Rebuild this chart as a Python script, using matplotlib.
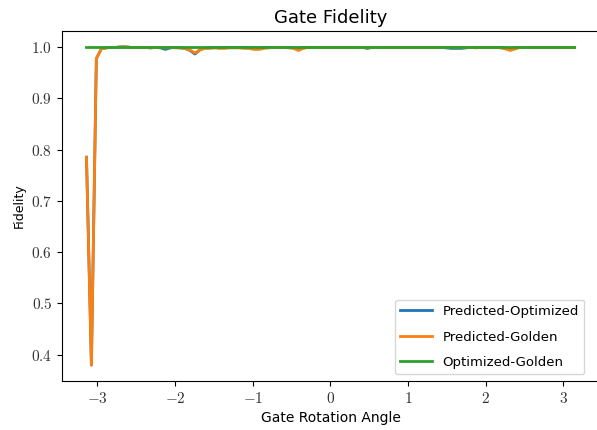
import numpy as np
import matplotlib
matplotlib.use("Agg")
import matplotlib.pyplot as plt

plt.rcParams['mathtext.fontset'] = 'cm'
plt.rcParams['font.family'] = ['DejaVu Sans']

# angle grid: 100 samples over [-pi, pi]
angles = np.linspace(-np.pi, np.pi, 100)

pred_opt = [
    0.785, 0.380, 0.977, 0.996, 0.998, 0.999, 0.999, 1.000, 1.000, 0.999,
    0.999, 0.999, 0.999, 0.998, 0.999, 0.998, 0.995, 0.998, 0.999, 0.998,
    0.997, 0.993, 0.986, 0.994, 0.998, 0.998, 0.999, 0.998, 0.999, 0.999,
    0.999, 0.999, 0.999, 0.998, 0.998, 0.998, 0.999, 0.999, 0.999, 0.999,
    0.999, 0.999, 0.998, 0.997, 0.999, 0.999, 0.999, 0.999, 0.999, 0.999,
    0.999, 0.999, 0.999, 0.999, 0.999, 0.999, 0.999, 0.997, 0.999, 0.999,
    0.999, 0.999, 0.999, 0.999, 0.999, 0.999, 0.999, 0.999, 0.999, 0.999,
    0.999, 0.999, 0.999, 0.998, 0.997, 0.997, 0.997, 0.998, 0.999, 0.999,
    0.999, 0.999, 0.999, 0.999, 0.999, 0.998, 0.996, 0.998, 0.999, 0.999,
    0.999, 0.999, 0.999, 0.999, 0.999, 0.999, 0.999, 0.999, 0.999, 0.999,
]

pred_gold = [
    0.785, 0.380, 0.977, 0.996, 0.998, 0.999, 0.999, 1.000, 1.000, 0.999,
    0.999, 0.999, 0.999, 0.998, 0.999, 0.999, 0.998, 0.999, 0.998, 0.998,
    0.997, 0.994, 0.988, 0.994, 0.997, 0.997, 0.998, 0.997, 0.997, 0.998,
    0.998, 0.998, 0.997, 0.997, 0.995, 0.995, 0.997, 0.998, 0.999, 0.999,
    0.999, 0.998, 0.997, 0.993, 0.997, 0.999, 0.999, 0.999, 0.999, 0.999,
    0.999, 0.999, 0.999, 0.999, 0.999, 0.999, 0.999, 0.998, 0.999, 0.999,
    0.999, 0.999, 0.999, 0.999, 0.999, 0.999, 0.999, 0.999, 0.999, 0.999,
    0.999, 0.999, 0.999, 0.999, 0.999, 0.999, 0.999, 0.999, 0.999, 0.998,
    0.999, 0.999, 0.999, 0.999, 0.998, 0.996, 0.993, 0.996, 0.999, 0.999,
    0.999, 0.999, 0.999, 0.999, 0.999, 0.999, 0.999, 0.999, 0.999, 0.999,
]

opt_gold = [
    1.000, 1.000, 1.000, 1.000, 1.000, 1.000, 1.000, 1.000, 1.000, 1.000,
    1.000, 1.000, 1.000, 1.000, 1.000, 1.000, 1.000, 1.000, 1.000, 1.000,
    1.000, 1.000, 1.000, 1.000, 1.000, 1.000, 1.000, 1.000, 1.000, 1.000,
    1.000, 1.000, 1.000, 1.000, 1.000, 1.000, 1.000, 1.000, 1.000, 1.000,
    1.000, 1.000, 1.000, 1.000, 1.000, 1.000, 1.000, 1.000, 1.000, 1.000,
    1.000, 1.000, 1.000, 1.000, 1.000, 1.000, 1.000, 1.000, 1.000, 1.000,
    1.000, 1.000, 1.000, 1.000, 1.000, 1.000, 1.000, 1.000, 1.000, 1.000,
    1.000, 1.000, 1.000, 1.000, 1.000, 1.000, 1.000, 1.000, 1.000, 1.000,
    1.000, 1.000, 1.000, 1.000, 1.000, 1.000, 1.000, 1.000, 1.000, 1.000,
    1.000, 1.000, 1.000, 1.000, 1.000, 1.000, 1.000, 1.000, 1.000, 1.000,
]

xticks = [-3, -2, -1, 0, 1, 2, 3]
yticks = [0.4, 0.5, 0.6, 0.7, 0.8, 0.9, 1.0]

fig = plt.figure(figsize=(5.97, 4.30), dpi=100)
ax = fig.add_axes([0.104, 0.114, 0.899, 0.814])

ax.plot(angles, pred_opt, label='Predicted-Optimized', lw=2)
ax.plot(angles, pred_gold, label='Predicted-Golden', lw=2)
ax.plot(angles, opt_gold, label='Optimized-Golden', lw=2)

# the original image is cropped just before the right spine
ax.spines['right'].set_visible(False)

ax.set_xticks(xticks)
ax.set_xticklabels([r'$%d$' % t for t in xticks], fontsize=11, color='#333333')
ax.set_yticks(yticks)
ax.set_yticklabels([r'$%.1f$' % t for t in yticks], fontsize=11, color='#333333')

ax.set_title('Gate Fidelity', fontsize=13)
ax.set_xlabel('Gate Rotation Angle', fontsize=10)
ax.set_ylabel('Fidelity', fontsize=9)
ax.legend(loc='lower right', fontsize=9.5, bbox_to_anchor=(0.985, 0.0),
          labelspacing=0.95, handlelength=2.4)

fig.savefig('out.png', dpi=100)
